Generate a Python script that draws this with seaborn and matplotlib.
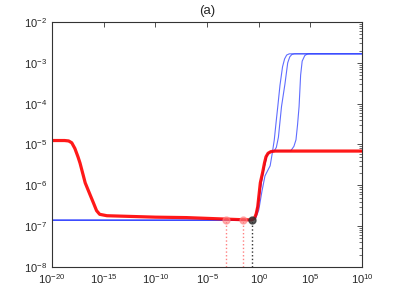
import numpy as np
import pandas as pd
import matplotlib
matplotlib.use('Agg')
import matplotlib.pyplot as plt
import matplotlib.ticker as mticker
import seaborn as sns

# curva vermelha (expoente de x, valor de y)
red_x = [-20, -18.8, -18.4, -18.1, -17.8, -17.5, -17.3, -17.0, -16.8, -16.4, -16.0, -15.7,
         -15.4, -14.7, -10, -7, -5, -2, -0.7, -0.42, -0.25, -0.1, 0.15, 0.38, 0.55, 0.7,
         0.9, 1.18, 1.6, 10]
red_y = [1.25e-5, 1.25e-5, 1.22e-5, 1.1e-5, 8e-6, 5e-6, 3.5e-6, 1.8e-6, 1.15e-6, 6.5e-7,
         3.7e-7, 2.4e-7, 1.95e-7, 1.8e-7, 1.66e-7, 1.62e-7, 1.55e-7, 1.45e-7, 1.42e-7,
         1.55e-7, 2e-7, 3e-7, 1.15e-6, 2.1e-6, 3.5e-6, 5e-6, 6.1e-6, 6.7e-6, 6.9e-6, 6.9e-6]

# curvas azuis
b1_x = [-20, -0.6, -0.3, 0, 0.3, 0.6, 0.9, 1.1, 1.3, 1.5, 1.7, 1.85, 2.05, 2.3, 2.5, 2.7,
        2.95, 10]
b1_y = [1.4e-7, 1.4e-7, 1.55e-7, 2.5e-7, 7e-7, 1.7e-6, 2.4e-6, 3e-6, 6e-6, 1.3e-5, 4e-5,
        9e-5, 2.8e-4, 8e-4, 1.25e-3, 1.55e-3, 1.66e-3, 1.66e-3]
b2_x = [-20, -0.6, -0.3, 0, 0.25, 0.5, 0.8, 1.1, 1.5, 1.7, 1.9, 2.2, 2.53, 2.8, 3.0, 3.2,
        3.45, 10]
b2_y = [1.4e-7, 1.4e-7, 1.7e-7, 4.5e-7, 1.2e-6, 2.6e-6, 5.5e-6, 6.6e-6, 7e-6, 8.5e-6,
        1.5e-5, 8.5e-5, 3e-4, 1e-3, 1.4e-3, 1.6e-3, 1.66e-3, 1.66e-3]
b3_x = [-20, -0.6, -0.3, 0, 0.25, 0.5, 0.8, 1.1, 1.5, 3.1, 3.4, 3.6, 3.75, 3.9, 4.05, 4.2,
        4.45, 4.65, 4.85, 10]
b3_y = [1.4e-7, 1.4e-7, 1.7e-7, 4.5e-7, 1.2e-6, 2.6e-6, 5.5e-6, 6.6e-6, 7e-6, 7e-6, 9e-6,
        1.3e-5, 3e-5, 8.5e-5, 5e-4, 1.1e-3, 1.5e-3, 1.62e-3, 1.66e-3, 1.66e-3]

# marcadores
mk_x = [-3.15, -1.55, -0.68]
mk_y = [1.42e-7, 1.42e-7, 1.42e-7]
mk_cor = ['#ff8080', '#ff8080', '#333333']

sns.set_style('white')
plt.rcParams['font.family'] = ['Liberation Sans', 'DejaVu Sans']
plt.rcParams['mathtext.default'] = 'regular'

fig = plt.figure(figsize=(4.01, 3.01), dpi=100)
ax = fig.add_axes([0.13, 0.113, 0.773, 0.814])

for bx, by in [(b1_x, b1_y), (b2_x, b2_y), (b3_x, b3_y)]:
    d = pd.DataFrame({'x': 10.0 ** np.array(bx), 'y': by})
    sns.lineplot(data=d, x='x', y='y', ax=ax, color='#2a3cff', lw=0.8, alpha=0.75,
                 sort=False, estimator=None)

d = pd.DataFrame({'x': 10.0 ** np.array(red_x), 'y': red_y})
sns.lineplot(data=d, x='x', y='y', ax=ax, color='red', lw=2.3, alpha=0.9,
             sort=False, estimator=None)

mx = 10.0 ** np.array(mk_x)
for i in range(3):
    ax.vlines(mx[i], 1e-8, mk_y[i], colors=mk_cor[i], linestyles=':', lw=1.0)
    ax.plot(mx[i], mk_y[i], 'o', ms=5, color=mk_cor[i], alpha=0.8 if i == 2 else 0.6,
            mec=mk_cor[i])

ax.set_xscale('log')
ax.set_yscale('log')
ax.set_xlim(1e-20, 1e10)
ax.set_ylim(1e-8, 1e-2)
ax.xaxis.label.set_visible(False)
ax.yaxis.label.set_visible(False)
ax.set_title('(a)', fontsize=9.5, pad=6)

ax.xaxis.set_major_locator(mticker.FixedLocator([10.0 ** e for e in range(-20, 11, 5)]))
ax.xaxis.set_minor_locator(mticker.NullLocator())
ax.yaxis.set_major_locator(mticker.LogLocator(base=10, numticks=20))
ax.yaxis.set_minor_locator(mticker.LogLocator(base=10, subs=np.arange(2, 10), numticks=20))
ax.xaxis.set_major_formatter(mticker.LogFormatterSciNotation())
ax.tick_params(which='both', direction='in', top=True, right=True, labelsize=8,
               color='#333333')
ax.tick_params(which='major', length=3.5, width=0.6)
ax.tick_params(which='minor', length=2, width=0.5)
for s in ax.spines.values():
    s.set_color('#333333')
    s.set_linewidth(0.8)

fig.savefig('out.png', dpi=100)
